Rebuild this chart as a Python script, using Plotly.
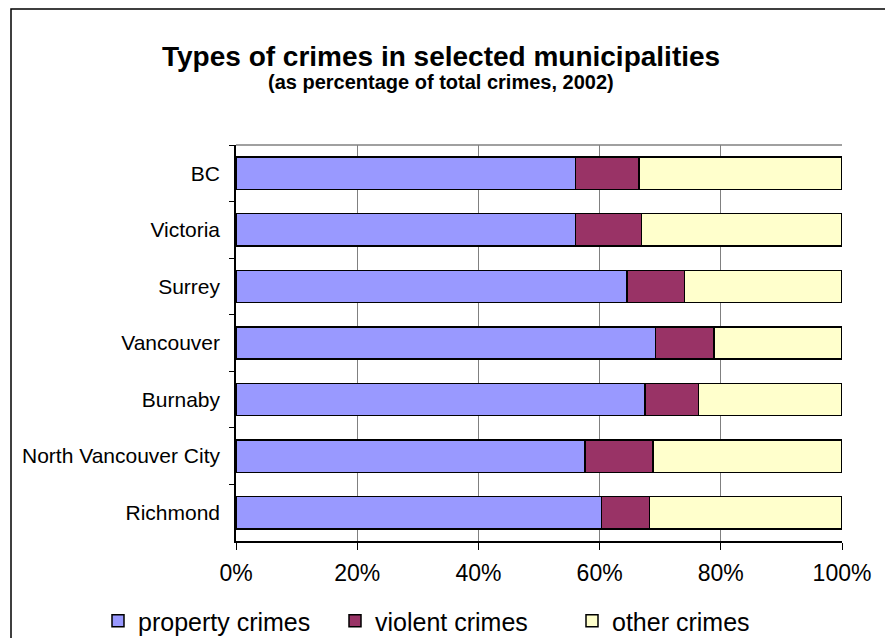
import plotly.graph_objects as go

categories = ["BC", "Victoria", "Surrey", "Vancouver", "Burnaby", "North Vancouver City", "Richmond"]
property_crimes = [56.0, 56.0, 64.5, 69.2, 67.5, 57.6, 60.3]
violent_crimes = [10.5, 10.9, 9.5, 9.7, 8.8, 11.2, 7.9]
other_crimes = [33.5, 33.1, 26.0, 21.1, 23.7, 31.2, 31.8]
x_ticks = [0, 20, 40, 60, 80, 100]
x_tick_labels = ["0%", "20%", "40%", "60%", "80%", "100%"]

series = [
    ("property crimes", property_crimes, "#9999FF"),
    ("violent crimes", violent_crimes, "#993366"),
    ("other crimes", other_crimes, "#FFFFCC"),
]

fig = go.Figure()
for name, vals, color in series:
    fig.add_trace(go.Bar(
        y=categories, x=vals, name=name, orientation="h",
        marker=dict(color=color, line=dict(color="black", width=1.5)),
    ))

# page body has an 8px margin: work in screen pixels, shift by OFF
OFF = 8
W, H = 893 - OFF, 638 - OFF
PL, PR, PT, PB = 236 - OFF, 842 - OFF, 145 - OFF, 541 - OFF
pw, ph = PR - PL, PB - PT

def px_x(x):
    return (x - OFF - PL) / pw

def px_y(y):
    return (PB - (y - OFF)) / ph

fig.update_layout(
    width=W, height=H,
    barmode="stack", bargap=0.43,
    margin=dict(l=PL, r=W - PR, t=PT, b=H - PB, autoexpand=False),
    paper_bgcolor="white", plot_bgcolor="white",
    font=dict(family="Liberation Sans, Arial, sans-serif", color="black"),
    showlegend=True,
    legend=dict(orientation="h", x=px_x(98), xanchor="left", y=px_y(621), yanchor="middle",
                font=dict(size=25), itemwidth=30, traceorder="normal", tracegroupgap=0,
                entrywidth=192, entrywidthmode="pixels"),
    xaxis=dict(range=[0, 100], tickvals=x_ticks, ticktext=x_tick_labels,
               showgrid=True, gridcolor="#808080", gridwidth=1,
               showline=True, linecolor="black", linewidth=1.5,
               ticks="outside", ticklen=7, tickcolor="black",
               tickfont=dict(size=23), ticklabelstandoff=4, zeroline=False, fixedrange=True),
    yaxis=dict(autorange="reversed", showline=True, linecolor="black", linewidth=1.5,
               ticks="outside", tickson="boundaries", ticklen=5, tickcolor="black",
               tickfont=dict(size=21), ticklabelstandoff=10, showgrid=False),
    shapes=[
        dict(type="line", xref="paper", yref="paper", x0=0, x1=1, y0=1, y1=1,
             line=dict(color="#808080", width=1.5)),
        dict(type="rect", xref="paper", yref="paper",
             x0=px_x(11), x1=px_x(891), y0=px_y(9), y1=px_y(660),
             line=dict(color="black", width=1.5), fillcolor="rgba(0,0,0,0)", layer="below"),
    ],
    annotations=[
        dict(text="<b>Types of crimes in selected municipalities</b>", xref="paper", yref="paper",
             x=px_x(441), y=px_y(56), xanchor="center", yanchor="middle", showarrow=False,
             font=dict(size=28)),
        dict(text="<b>(as percentage of total crimes, 2002)</b>", xref="paper", yref="paper",
             x=px_x(441), y=px_y(82), xanchor="center", yanchor="middle", showarrow=False,
             font=dict(size=20)),
    ],
)

fig.write_html("out.html")
